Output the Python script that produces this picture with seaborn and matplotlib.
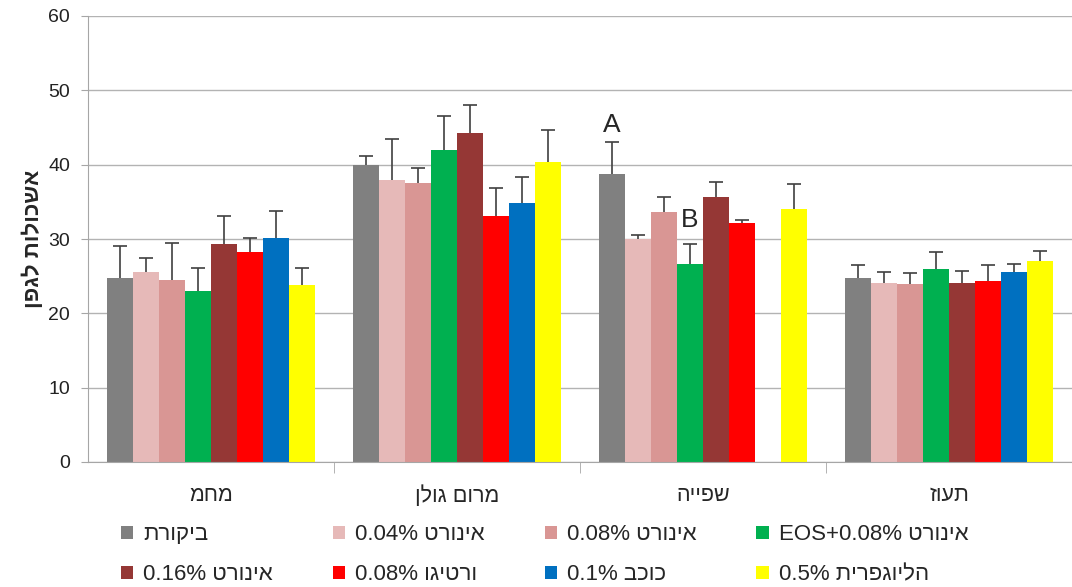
import re
import matplotlib
matplotlib.use("Agg")
import matplotlib.pyplot as plt
from matplotlib.patches import Patch
import seaborn as sns
import pandas as pd
import numpy as np

# ---- data ----
sites = ["מחמ", "מרום גולן", "שפייה", "תעוז"]
treatments = [
    "ביקורת",
    "אינורט 0.04%",
    "אינורט 0.08%",
    "אינורט EOS+0.08%",
    "אינורט 0.16%",
    "ורטיגו 0.08%",
    "כוכב 0.1%",
    "הליוגפרית 0.5%",
]
colors = ["#808080", "#E6B9B8", "#D99694", "#00B050",
          "#953735", "#FF0000", "#0070C0", "#FFFF00"]

# mean per treatment, one value per site (order as in `sites`)
control = [24.8, 40.0, 38.7, 24.7]
inort_004 = [25.5, 37.9, 30.0, 24.1]
inort_008 = [24.5, 37.6, 33.6, 23.9]
inort_eos = [23.0, 42.0, 26.6, 26.0]
inort_016 = [29.3, 44.3, 35.6, 24.1]
vertigo = [28.3, 33.1, 32.2, 24.4]
kochav = [30.2, 34.8, np.nan, 25.5]
helio = [23.8, 40.4, 34.0, 27.1]

# upper error (SE) per treatment
control_err = [4.2, 1.2, 4.3, 1.8]
inort_004_err = [1.9, 5.5, 0.6, 1.4]
inort_008_err = [5.0, 1.9, 2.0, 1.5]
inort_eos_err = [3.1, 4.6, 2.7, 2.2]
inort_016_err = [3.8, 3.7, 2.1, 1.6]
vertigo_err = [1.8, 3.8, 0.3, 2.1]
kochav_err = [3.6, 3.5, np.nan, 1.1]
helio_err = [2.3, 4.2, 3.4, 1.3]

means = [control, inort_004, inort_008, inort_eos, inort_016, vertigo, kochav, helio]
errs = [control_err, inort_004_err, inort_008_err, inort_eos_err,
        inort_016_err, vertigo_err, kochav_err, helio_err]

# significance letters: (site, treatment, letter, gap above error bar)
letters = [("שפייה", "ביקורת", "A", 2.3), ("שפייה", "אינורט EOS+0.08%", "B", 3.3)]

y_label = "אשכולות לגפן"


def rtl(text):
    # matplotlib has no bidi support: lay Hebrew out visually
    rev = text[::-1]
    return re.sub(r"[A-Za-z0-9.%+]+", lambda m: m.group(0)[::-1], rev)


rows = []
for t, vals, ers in zip(treatments, means, errs):
    for s, v, e in zip(sites, vals, ers):
        rows.append({"site": s, "treatment": t, "value": v, "err": e})
df = pd.DataFrame(rows)

sns.set_style("white")
plt.rcParams["font.family"] = ["Liberation Sans", "DejaVu Sans"]

fig = plt.figure(figsize=(10.72, 5.87), dpi=100)
ax = fig.add_axes([88 / 1072, 1 - 462 / 587, 1 - 88 / 1072, (462 - 16) / 587])

sns.barplot(data=df.dropna(subset=["value"]), x="site", y="value", hue="treatment",
            order=sites, hue_order=treatments, palette=colors, saturation=1,
            errorbar=None, width=0.846, linewidth=0, legend=False, ax=ax)

# upper error bars + letters
err_lookup = {(r.site, r.treatment): (r.value, r.err) for r in df.itertuples()}
centers = {}
for t, cont in zip(treatments, ax.containers):
    for bar in cont:
        xc = bar.get_x() + bar.get_width() / 2
        s = sites[int(round(xc))]
        v, e = err_lookup[(s, t)]
        centers[(s, t)] = xc
        eb = ax.errorbar(xc, v, yerr=[[0], [e]], fmt="none", ecolor="#404040",
                         elinewidth=1.2, capsize=5, capthick=1.2, zorder=3)
        eb[1][0].set_visible(False)  # no cap at the bar top

for s, t, letter, gap in letters:
    v, e = err_lookup[(s, t)]
    ax.text(centers[(s, t)], v + e + gap, letter, ha="center", va="center",
            fontsize=19)

ax.set_ylim(0, 60)
ax.set_yticks(range(0, 61, 10))
ax.set_xlim(-0.5, 3.5)
ax.yaxis.grid(True, color="#b3b3b3", linewidth=1)
ax.set_axisbelow(True)
for side in ["top", "right"]:
    ax.spines[side].set_visible(False)
for side in ["left", "bottom"]:
    ax.spines[side].set_color("#a6a6a6")
ax.tick_params(axis="y", left=True, length=5, color="#a6a6a6", labelsize=14,
               pad=8, labelcolor="#222222")
ax.tick_params(axis="x", bottom=False, labelsize=15.5, pad=13)
ax.set_xticks(range(len(sites)))
ax.set_xticklabels([rtl(s) for s in sites])
ax.set_xticks([0.5, 1.5, 2.5], minor=True)
ax.tick_params(axis="x", which="minor", bottom=True, length=8, color="#a6a6a6")
ax.set_xlabel("")
ax.set_ylabel(rtl(y_label), fontsize=16, fontweight="bold", labelpad=3)

# legend: 4 columns, filled row-wise like the original
handles = [Patch(facecolor=c, edgecolor="none") for c in colors]
labels = [rtl(t) for t in treatments]
order = [0, 4, 1, 5, 2, 6, 3, 7]
fig.legend([handles[i] for i in order], [labels[i] for i in order],
           ncol=4, loc="upper left", bbox_to_anchor=(0.094, 0.141),
           frameon=False, fontsize=16, handlelength=0.55, handleheight=0.55,
           handletextpad=0.45, columnspacing=2.7, labelspacing=0.85)

fig.savefig("out.png", dpi=100)
